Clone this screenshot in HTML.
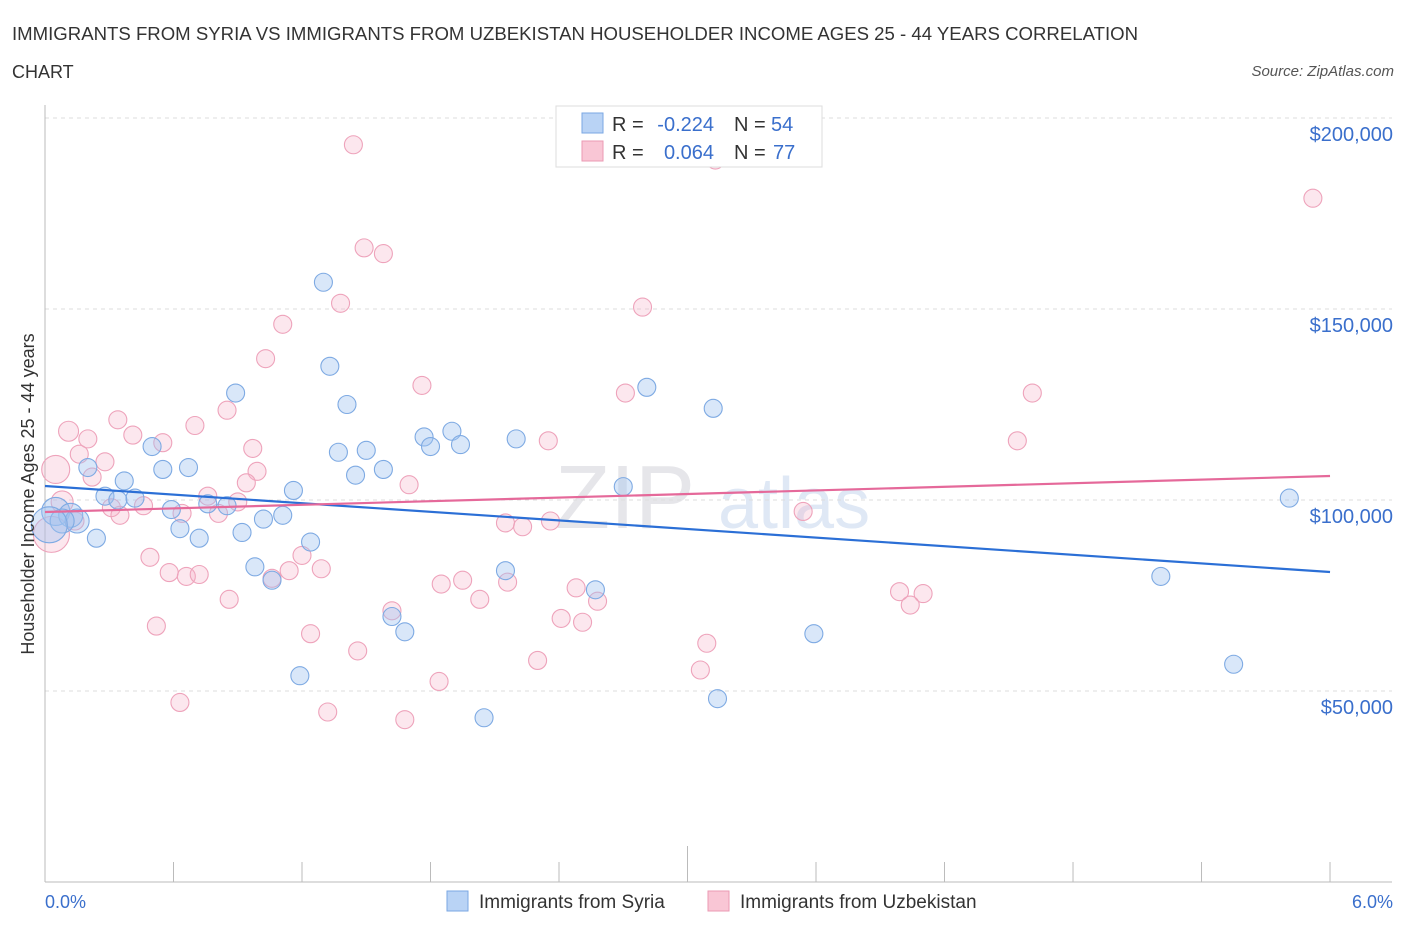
<!DOCTYPE html>
<html><head><meta charset="utf-8"><style>
body{margin:0;background:#fff;font-family:"Liberation Sans",sans-serif;}
svg text{font-family:"Liberation Sans",sans-serif;}
</style></head><body>
<svg id="chart" width="1406" height="930" xmlns="http://www.w3.org/2000/svg">
<text x="12" y="40" font-size="18" fill="#333" textLength="1126" lengthAdjust="spacingAndGlyphs">IMMIGRANTS FROM SYRIA VS IMMIGRANTS FROM UZBEKISTAN HOUSEHOLDER INCOME AGES 25 - 44 YEARS CORRELATION</text>
<text x="12" y="78" font-size="18" fill="#333">CHART</text>
<text x="1394" y="76" font-size="15" fill="#555" text-anchor="end" font-style="italic">Source: ZipAtlas.com</text>
<text x="555" y="528" font-size="90" fill="#e6e6ea" font-family="Liberation Serif">ZIP</text>
<text x="718" y="528" font-size="72" fill="#dfe8f5">atlas</text>
<g id="grid"></g>
<g id="axes"></g>
<g id="marks"></g>
<text transform="translate(34,494) rotate(-90)" font-size="18" fill="#333" text-anchor="middle">Householder Income Ages 25 - 44 years</text>
<text x="45" y="908" font-size="18" fill="#3a6fcc">0.0%</text>
<text x="1393" y="908" font-size="18" fill="#3a6fcc" text-anchor="end">6.0%</text>
<g>
<rect x="556" y="106" width="266" height="61" fill="#fff" stroke="#ddd"/>
<rect x="582" y="113" width="21" height="20" fill="#b9d3f5" stroke="#7aa7e3"/>
<rect x="582" y="141" width="21" height="20" fill="#f9c6d5" stroke="#eb9ab3"/>
<text x="612" y="131" font-size="20" fill="#333">R =</text>
<text x="714" y="131" font-size="20" fill="#3a6fcc" text-anchor="end">-0.224</text>
<text x="734" y="131" font-size="20" fill="#333">N =</text>
<text x="771" y="131" font-size="20" fill="#3a6fcc">54</text>
<text x="612" y="159" font-size="20" fill="#333">R =</text>
<text x="714" y="159" font-size="20" fill="#3a6fcc" text-anchor="end">0.064</text>
<text x="734" y="159" font-size="20" fill="#333">N =</text>
<text x="773" y="159" font-size="20" fill="#3a6fcc">77</text>
</g>
<g>
<rect x="447" y="891" width="21" height="20" fill="#b9d3f5" stroke="#7aa7e3"/>
<text x="479" y="908" font-size="19" fill="#333">Immigrants from Syria</text>
<rect x="708" y="891" width="21" height="20" fill="#f9c6d5" stroke="#eb9ab3"/>
<text x="740" y="908" font-size="19" fill="#333">Immigrants from Uzbekistan</text>
</g>
</svg>
<script>
const yTicks=[50000,100000,150000,200000];
const yTickLabels=["$50,000","$100,000","$150,000","$200,000"];
const xTicks=[0,0.6,1.2,1.8,2.4,3.0,3.6,4.2,4.8,5.4,6.0];
const syriaX=[1.30,1.33,0.89,1.41,2.81,3.12,1.90,1.77,1.50,1.37,1.80,1.94,2.20,0.50,0.55,0.67,0.20,0.37,1.45,1.58,1.16,0.28,0.42,0.34,0.76,0.85,0.59,1.11,1.02,0.63,0.92,1.24,0.72,0.24,0.05,0.12,0.15,0.08,0.02,0.98,1.06,2.15,2.57,2.70,1.62,1.68,3.59,1.19,2.05,3.14,5.21,5.55,5.81];
const syriaY=[157000,135000,128000,125000,129500,124000,118000,116500,113000,112500,114000,114500,116000,114000,108000,108500,108500,105000,106500,108000,102500,101000,100500,100000,99000,98500,97500,96000,95000,92500,91500,89000,90000,90000,97000,96000,94500,94500,93500,82500,79000,81500,76500,103500,69500,65500,65000,54000,43000,48000,80000,57000,100500];
const syriaR=[9,9,9,9,9,9,9,9,9,9,9,9,9,9,9,9,9,9,9,9,9,9,9,9,9,9,9,9,9,9,9,9,9,9,14,12,12,12,18,9,9,9,9,9,9,9,9,9,9,9,9,9,9];
const uzbX=[1.44,3.13,5.92,1.49,1.58,1.38,2.79,1.11,1.03,1.76,2.71,4.61,0.85,0.34,0.11,0.41,0.20,0.55,0.70,0.97,2.35,4.54,0.16,0.28,0.05,0.99,0.94,0.22,1.70,0.76,0.90,0.08,0.46,0.81,0.31,0.35,0.64,0.14,3.54,2.15,2.23,2.36,0.49,1.20,1.29,0.58,0.66,0.72,1.06,1.14,1.85,1.95,2.16,2.48,2.58,2.03,0.86,1.62,2.41,2.51,3.99,4.10,4.04,0.52,1.24,3.09,1.46,2.30,3.06,1.84,0.63,1.32,1.68,0.03];
const uzbY=[193000,189000,179000,166000,164500,151500,150500,146000,137000,130000,128000,128000,123500,121000,118000,117000,116000,115000,119500,113500,115500,115500,112000,110000,108000,107500,104500,106000,104000,101000,99500,99500,98500,96500,98000,96000,96500,94500,97000,94000,93000,94500,85000,85500,82000,81000,80000,80500,79500,81500,78000,79000,78500,77000,73500,74000,74000,71000,69000,68000,76000,75500,72500,67000,65000,62500,60500,58000,55500,52500,47000,44500,42500,91000];
const uzbR=[9,9,9,9,9,9,9,9,9,9,9,9,9,9,10,9,9,9,9,9,9,9,9,9,14,9,9,9,9,9,9,11,9,9,9,9,9,9,9,9,9,9,9,9,9,9,9,9,9,9,9,9,9,9,9,9,9,9,9,9,9,9,9,9,9,9,9,9,9,9,9,9,9,18];
const syriaTrend=[103660,81150];
const uzbTrend=[96860,106280];
const NS="http://www.w3.org/2000/svg";
const X=v=>45+v*214.17, Y=v=>882-v/50000*191;
function mk(p,t,a){const e=document.createElementNS(NS,t);for(const k in a)e.setAttribute(k,a[k]);p.appendChild(e);return e;}
const gridG=document.getElementById('grid'),axesG=document.getElementById('axes'),marksG=document.getElementById('marks');
yTicks.forEach((t,i)=>{
 const l=mk(gridG,'line',{x1:45,x2:1392,y1:Y(t),y2:Y(t),stroke:'#ddd','stroke-dasharray':'4,4'});
 
 
 const tx=mk(gridG,'text',{x:1393,y:Y(t)+23,'font-size':20,fill:'#3a6fcc','text-anchor':'end'});
 tx.textContent=yTickLabels[i];
 
 
});
const topLine=mk(gridG,'line',{x1:45,x2:1392,y1:118,y2:118,stroke:'#ddd','stroke-dasharray':'4,4'});


const ya=mk(axesG,'line',{x1:45,x2:45,y1:105,y2:882,stroke:'#bbb'});


const xa=mk(axesG,'line',{x1:45,x2:1392,y1:882,y2:882,stroke:'#bbb'});


xTicks.forEach((t,i)=>{
 const l=mk(axesG,'line',{x1:X(t),x2:X(t),y1:882,y2:(i==5?846:862),stroke:'#bbb'});
 
 
});
function pts(xs,ys,rs,fill,stroke,name){
 xs.forEach((x,i)=>{
  const c=mk(marksG,'circle',{cx:X(x),cy:Y(ys[i]),r:rs[i],fill:fill,stroke:stroke,'stroke-width':1.1});
  
  
 });
}
pts(uzbX,uzbY,uzbR,'rgba(246,175,198,0.3)','#eea3bb','point-uzbekistan');
pts(syriaX,syriaY,syriaR,'rgba(160,196,240,0.4)','#7eaae3','point-syria');
const t1=mk(marksG,'line',{x1:X(0),x2:X(6),y1:Y(syriaTrend[0]),y2:Y(syriaTrend[1]),stroke:'#2b6fd6','stroke-width':2.2});


const t2=mk(marksG,'line',{x1:X(0),x2:X(6),y1:Y(uzbTrend[0]),y2:Y(uzbTrend[1]),stroke:'#e5699a','stroke-width':2.2});


</script>
</body></html>
